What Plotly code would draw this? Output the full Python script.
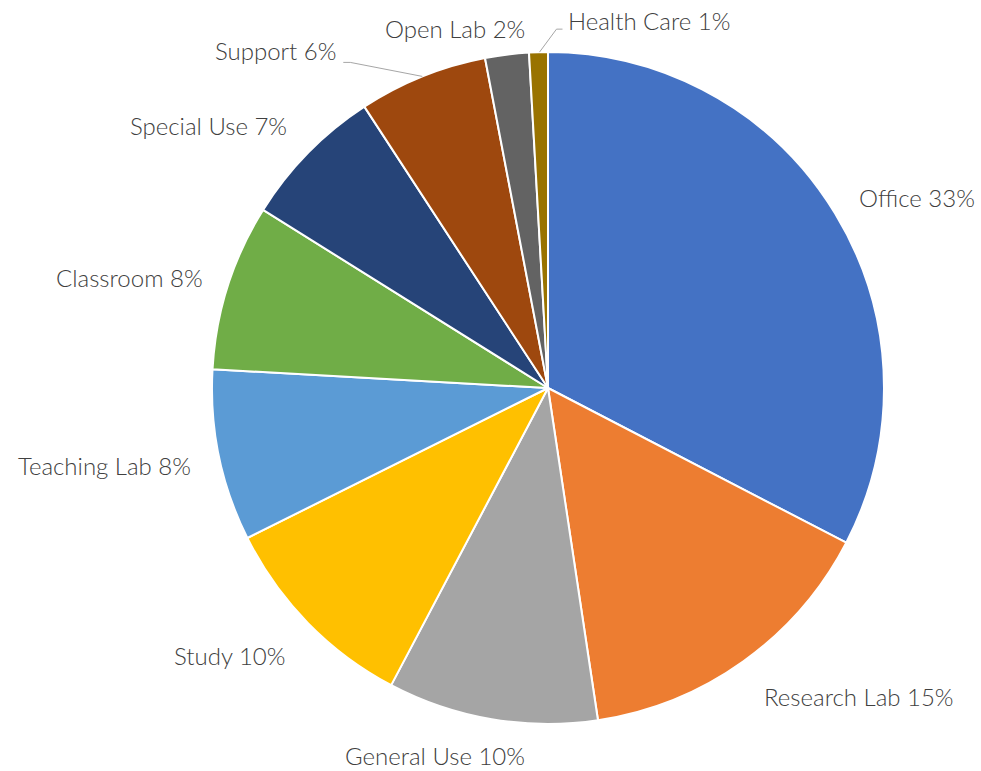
import math
import plotly.graph_objects as go

labels = ["Office", "Research Lab", "General Use", "Study", "Teaching Lab",
          "Classroom", "Special Use", "Support", "Open Lab", "Health Care"]
values = [32.6, 15.0, 10.1, 9.9, 8.25, 8.0, 6.9, 6.2, 2.1, 0.9]
colors = ["#4472C4", "#ED7D31", "#A5A5A5", "#FFC000", "#5B9BD5",
          "#70AD47", "#264478", "#9E480E", "#636363", "#997300"]

# label layout: text anchor side and pixel offset from the slice's outer mid-point
label_side = ["left", "left", "right", "right", "right",
              "right", "right", "right", "right", "left"]
label_offset = [(22, -16), (19, 35), (35, 36), (-21, 33), (-26, 10),
                (-23, -9), (-19, -27), (-84, -26), (20, -26), (28, -32)]
leader = [False, False, False, False, False, False, False, True, False, True]

W, H = 981, 771
cx, cy, r = 548, 388, 336
FONT = dict(family="Lato", size=24, color="#404040", weight=300)


def px(x):
    return x / W


def py(y):
    return 1 - y / H


fig = go.Figure(go.Pie(
    labels=labels, values=values, sort=False, direction="clockwise", rotation=0,
    marker=dict(colors=colors, line=dict(color="white", width=2)),
    textinfo="none",
    domain=dict(x=[px(cx - r), px(cx + r)], y=[py(cy + r), py(cy - r)]),
    hoverinfo="label+percent", showlegend=False,
))

total = sum(values)
cum = 0.0
annotations, shapes = [], []
for lab, v, side, (dx, dy), lead in zip(labels, values, label_side, label_offset, leader):
    mid = (cum + v / 2) / total * 2 * math.pi
    cum += v
    ex, ey = cx + r * math.sin(mid), cy - r * math.cos(mid)
    tx, ty = ex + dx, ey + dy
    pct = round(v / total * 100)
    annotations.append(dict(x=px(tx), y=py(ty), xref="paper", yref="paper",
                            text=f"{lab} {pct}%", showarrow=False,
                            xanchor=side, yanchor="middle", font=FONT))
    if lead:
        if side == "right":
            pts = [(tx + 5, ty + 12), (tx + 12, ty + 12), (ex, ey)]
        else:
            pts = [(tx - 4, ty + 9), (tx - 10, ty + 9), (ex + 1, ey)]
        path = "M " + " L ".join(f"{px(a)},{py(b)}" for a, b in pts)
        shapes.append(dict(type="path", path=path, xref="paper", yref="paper",
                           line=dict(color="#A6A6A6", width=1)))

fig.update_layout(width=W, height=H, margin=dict(l=0, r=0, t=0, b=0),
                  paper_bgcolor="white", plot_bgcolor="white",
                  annotations=annotations, shapes=shapes)
fig.write_html("out.html", config={"displayModeBar": False},
               post_script="document.body.style.margin='0';")
